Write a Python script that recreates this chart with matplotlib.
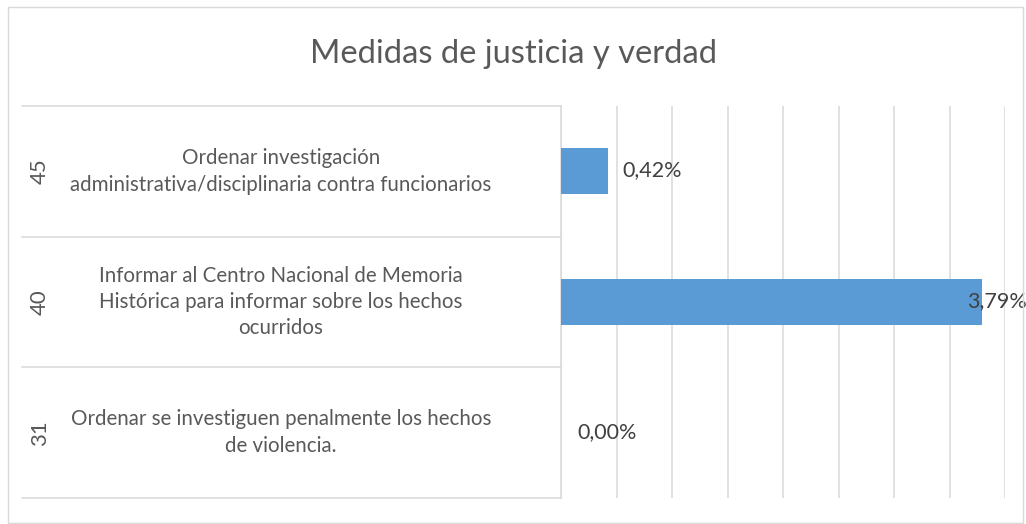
import matplotlib
matplotlib.use("Agg")
import matplotlib.pyplot as plt
import matplotlib.transforms as mtransforms
from matplotlib.patches import Rectangle

codes = ["45", "40", "31"]
categories = [
    "Ordenar investigación\nadministrativa/disciplinaria contra funcionarios",
    "Informar al Centro Nacional de Memoria\nHistórica para informar sobre los hechos\nocurridos",
    "Ordenar se investiguen penalmente los hechos\nde violencia.",
]
values = [0.42, 3.79, 0.00]
value_labels = ["0,42%", "3,79%", "0,00%"]
title = "Medidas de justicia y verdad"

plt.rcParams['font.family'] = ['Lato', 'DejaVu Sans']

W, H = 1026, 524
fig = plt.figure(figsize=(W / 100, H / 100), dpi=100)
fig.patch.set_facecolor("white")

# chart border
fig.add_artist(Rectangle((8 / W, 1 - 523 / H), (1023 - 8) / W, (523 - 7) / H,
                         transform=fig.transFigure, fill=False,
                         edgecolor="#D9D9D9", linewidth=1.0))

left, right, top, bottom = 561, 1005, 106, 498
ax = fig.add_axes([left / W, 1 - bottom / H, (right - left) / W, (bottom - top) / H])

grid_c = "#D9D9D9"
bar_c = "#5B9BD5"
text_c = "#595959"
lab_c = "#404040"

y = list(range(len(values)))
ax.barh(y, values, height=0.35, color=bar_c, linewidth=0, zorder=3)
ax.set_xlim(0, 4.0)
ax.set_ylim(2.5, -0.5)
ax.set_xticks([i * 0.5 for i in range(9)])
ax.xaxis.grid(True, color=grid_c, linewidth=1.1, zorder=0)
ax.tick_params(axis="both", length=0, labelbottom=False, labelleft=False)
for s in ["top", "right", "bottom"]:
    ax.spines[s].set_visible(False)
ax.spines["left"].set_color(grid_c)
ax.spines["left"].set_linewidth(1.1)

# data labels
offsets = [15, -15, 16]
for yi, v, lab, off in zip(y, values, value_labels, offsets):
    ax.annotate(lab, xy=(v, yi), xytext=(off, 1), textcoords="offset pixels",
                ha="left", va="center", fontsize=15.5, color=lab_c, zorder=4,
                annotation_clip=False)

# category axis (multi-level)
axw = right - left
blend = mtransforms.blended_transform_factory(ax.transAxes, ax.transData)
x_line0 = (22 - left) / axw
for b in [-0.5, 0.5, 1.5, 2.5]:
    ax.plot([x_line0, 0], [b, b], transform=blend, color=grid_c,
            linewidth=1.1, clip_on=False, zorder=2)

x_inner = (281 - left) / axw
x_outer = (40 - left) / axw
for yi, code, cat in zip(y, codes, categories):
    ax.text(x_inner, yi, cat, transform=blend, ha="center", va="center",
            fontsize=14.8, color=text_c, linespacing=1.4)
    ax.text(x_outer, yi, code, transform=blend, ha="center", va="center",
            fontsize=16, color=text_c, rotation=90)

fig.text(513 / W, 1 - 54 / H, title, ha="center", va="center",
         fontsize=23.6, color=text_c)

fig.savefig("out.png", dpi=100, facecolor="white")
